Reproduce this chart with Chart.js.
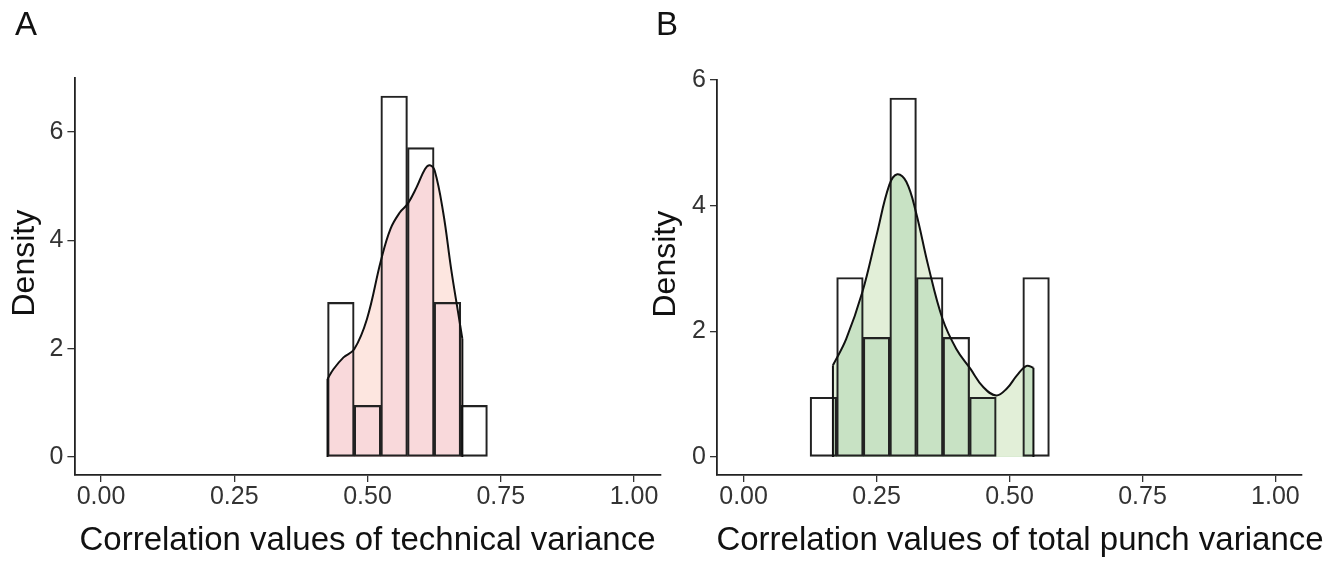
<!DOCTYPE html>
<html>
<head>
<meta charset="utf-8">
<script src="https://cdn.jsdelivr.net/npm/chart.js@4.4.1/dist/chart.umd.min.js"></script>
<style>
  html, body { margin: 0; padding: 0; background: #fff; }
  body { width: 1342px; height: 561px; position: relative; overflow: hidden; font-family: 'Liberation Sans', Arial, sans-serif; }
  .panel { position: absolute; top: 0; height: 561px; }
  #panelA { left: 0; width: 700px; }
  #panelB { left: 645px; width: 697px; }
  .tag { position: absolute; top: 7px; font-size: 33px; line-height: 1; color: #111; }
  .xtitle { position: absolute; top: 522px; font-size: 33px; line-height: 1; color: #111; white-space: nowrap; transform: translateX(-50%); }
</style>
</head>
<body>
<div class="panel" id="panelA"><canvas id="chartA"></canvas></div>
<div class="panel" id="panelB"><canvas id="chartB"></canvas></div>
<div class="tag" style="left:15px">A</div>
<div class="tag" style="left:656px">B</div>
<!-- B's title is wider than its plot area, so it sits outside the canvas -->
<div class="xtitle" style="left:1020px">Correlation values of total punch variance</div>
<script>
const xTicks = [0, 0.25, 0.5, 0.75, 1];
const yTicks = [0, 2, 4, 6];

// A - technical variance (bin width 0.05, n = 21)
const binsA = [0.45, 0.50, 0.55, 0.60, 0.65, 0.70];
const histA = [2.857, 0.952, 6.667, 5.714, 2.857, 0.952];
const kdeXA = [0.425, 0.436, 0.455, 0.475, 0.499, 0.525, 0.543, 0.561, 0.575, 0.592, 0.608, 0.617, 0.626, 0.642, 0.657, 0.670, 0.678];
const kdeYA = [1.44, 1.62, 1.84, 1.99, 2.55, 3.62, 4.21, 4.52, 4.67, 4.98, 5.32, 5.39, 5.29, 4.52, 3.47, 2.67, 2.18];

// B - total punch variance
const binsB = [0.15, 0.20, 0.25, 0.30, 0.35, 0.40, 0.45, 0.50, 0.55];
const histB = [0.952, 2.857, 1.905, 5.714, 2.857, 1.905, 0.952, 0, 2.857];
const kdeXB = [0.168, 0.193, 0.2235, 0.25, 0.274, 0.289, 0.306, 0.324, 0.347, 0.374, 0.40, 0.426, 0.451, 0.475, 0.495, 0.514, 0.532, 0.545];
const kdeYB = [1.46, 1.88, 2.63, 3.53, 4.33, 4.50, 4.38, 3.90, 3.05, 2.20, 1.72, 1.41, 1.11, 0.98, 1.09, 1.30, 1.45, 1.42];

Chart.defaults.font.family = "'Liberation Sans', Arial, sans-serif";

// bar fill only shows where the density area is already painted
const atopPlugin = {
    id: 'atop',
    beforeDatasetDraw(chart, args) {
        if (chart.data.datasets[args.index].atop) {
            chart.ctx.save();
            chart.ctx.globalCompositeOperation = 'source-atop';
        }
    },
    afterDatasetDraw(chart, args) {
        if (chart.data.datasets[args.index].atop) chart.ctx.restore();
    }
};

function makeChart(id, o) {
    const curve = o.kdeX.map((x, i) => ({ x: x, y: o.kdeY[i] }));
    const bars = o.bins.map((x, i) => ({ x: x, y: o.hist[i] }));
    const n = curve.length - 1;
    const axisGrid = { display: true, drawOnChartArea: false, drawTicks: true, tickLength: 7, color: '#333', lineWidth: 1.3, offset: false };
    const axisBorder = { display: true, color: '#222', width: 1.8 };

    return new Chart(document.getElementById(id), {
        type: 'bar',
        data: {
            datasets: [
                { type: 'line', data: curve, fill: 'origin', backgroundColor: o.light, borderColor: 'rgba(0,0,0,0)', pointRadius: 0, tension: 0.4, order: 5 },
                { type: 'bar', data: bars, backgroundColor: o.dark, borderWidth: 0, grouped: false, barPercentage: 1, categoryPercentage: 1, atop: true, order: 4 },
                { type: 'bar', data: bars, backgroundColor: 'rgba(0,0,0,0)', borderColor: '#222', borderWidth: 1.5, borderSkipped: false, grouped: false, barPercentage: 1, categoryPercentage: 1, order: 3 },
                { type: 'line', data: curve, fill: false, borderColor: '#111', borderWidth: 2, pointRadius: 0, tension: 0.4, order: 2 },
                { type: 'line', data: [{ x: o.kdeX[0], y: 0 }, curve[0]], fill: false, borderColor: '#111', borderWidth: 2, pointRadius: 0, order: 1 },
                { type: 'line', data: [curve[n], { x: o.kdeX[n], y: 0 }], fill: false, borderColor: '#111', borderWidth: 2, pointRadius: 0, order: 1 }
            ]
        },
        options: {
            responsive: true,
            maintainAspectRatio: false,
            devicePixelRatio: 1,
            animation: false,
            layout: { padding: { left: 0, top: o.top, right: o.right, bottom: 0 } },
            plugins: { legend: { display: false }, tooltip: { enabled: false } },
            scales: {
                x: {
                    type: 'linear', min: -0.05, max: 1.05, offset: false,
                    afterBuildTicks: s => { s.ticks = xTicks.map(v => ({ value: v })); },
                    afterFit: s => { s.height = 86; s.paddingLeft = 0; s.paddingRight = 0; },
                    grid: axisGrid,
                    border: axisBorder,
                    ticks: { color: '#333', font: { size: 25 }, padding: 0, maxRotation: 0, autoSkip: false, callback: v => v.toFixed(2) },
                    title: { display: !!o.xTitle, text: o.xTitle, color: '#111', font: { size: 33 }, padding: { top: 0, bottom: 0 } }
                },
                y: {
                    type: 'linear', min: o.yMin, max: o.yMax,
                    afterBuildTicks: s => { s.ticks = yTicks.map(v => ({ value: v })); },
                    afterFit: s => { s.width = o.yWidth; s.paddingTop = 0; s.paddingBottom = 0; },
                    grid: axisGrid,
                    border: axisBorder,
                    ticks: { color: '#333', font: { size: 25 }, padding: 4, callback: v => String(v) },
                    title: { display: true, text: '   Density', color: '#111', font: { size: 32 }, padding: { top: o.yTitlePad, bottom: 0 } }
                }
            }
        },
        plugins: [atopPlugin]
    });
}

makeChart('chartA', {
    bins: binsA, hist: histA, kdeX: kdeXA, kdeY: kdeYA,
    light: '#fde6e0', dark: '#f9d9db',
    yMin: -0.333, yMax: 7.0, top: 78, right: 39.4, yWidth: 74.4, yTitlePad: 5.7,
    xTitle: 'Correlation values of technical variance'
});

makeChart('chartB', {
    bins: binsB, hist: histB, kdeX: kdeXB, kdeY: kdeYB,
    light: '#e2efd8', dark: '#c8e2c4',
    yMin: -0.286, yMax: 6.0, top: 80, right: 40, yWidth: 72, yTitlePad: 1.8,
    xTitle: ''
});
</script>
</body>
</html>
